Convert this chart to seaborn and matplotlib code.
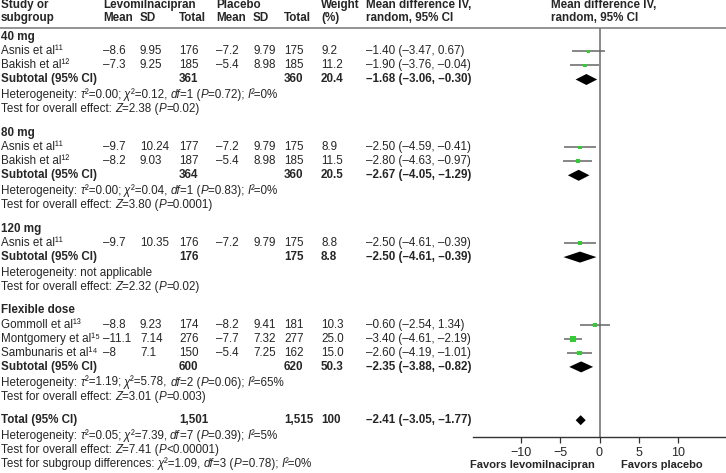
import numpy as np
import pandas as pd
import matplotlib
matplotlib.use("Agg")
import matplotlib.pyplot as plt
import matplotlib.transforms as mtransforms
from matplotlib.font_manager import FontProperties
import seaborn as sns

# ---- data ----
groups = ["40 mg", "80 mg", "120 mg", "Flexible dose"]

study_group = [0, 0, 1, 1, 2, 3, 3, 3]
study_names = ["Asnis et al", "Bakish et al", "Asnis et al", "Bakish et al",
               "Asnis et al", "Gommoll et al", "Montgomery et al", "Sambunaris et al"]
study_refs = ["\u00b9\u00b9", "\u00b9\u00b2", "\u00b9\u00b9", "\u00b9\u00b2",
              "\u00b9\u00b9", "\u00b9\u00b3", "\u00b9\u2075", "\u00b9\u2074"]
lev_mean = [-8.6, -7.3, -9.7, -8.2, -9.7, -8.8, -11.1, -8]
lev_sd = [9.95, 9.25, 10.24, 9.03, 10.35, 9.23, 7.14, 7.1]
lev_n = [176, 185, 177, 187, 176, 174, 276, 150]
pla_mean = [-7.2, -5.4, -7.2, -5.4, -7.2, -8.2, -7.7, -5.4]
pla_sd = [9.79, 8.98, 9.79, 8.98, 9.79, 9.41, 7.32, 7.25]
pla_n = [175, 185, 175, 185, 175, 181, 277, 162]
weight = [9.2, 11.2, 8.9, 11.5, 8.8, 10.3, 25.0, 15.0]
md = [-1.40, -1.90, -2.50, -2.80, -2.50, -0.60, -3.40, -2.60]
ci_lo = [-3.47, -3.76, -4.59, -4.63, -4.61, -2.54, -4.61, -4.19]
ci_hi = [0.67, -0.04, -0.41, -0.97, -0.39, 1.34, -2.19, -1.01]

sub_lev_n = [361, 364, 176, 600]
sub_pla_n = [360, 360, 175, 620]
sub_weight = [20.4, 20.5, 8.8, 50.3]
sub_md = [-1.68, -2.67, -2.50, -2.35]
sub_lo = [-3.06, -4.05, -4.61, -3.88]
sub_hi = [-0.30, -1.29, -0.39, -0.82]
# text between $...$ is set in italics
sub_het = ["Heterogeneity: $τ$²=0.00; $χ$²=0.12, $df$=1 ($P$=0.72); $I$²=0%",
           "Heterogeneity: $τ$²=0.00; $χ$²=0.04, $df$=1 ($P$=0.83); $I$²=0%",
           "Heterogeneity: not applicable",
           "Heterogeneity: $τ$²=1.19; $χ$²=5.78, $df$=2 ($P$=0.06); $I$²=65%"]
sub_test = ["Test for overall effect: $Z$=2.38 ($P$=0.02)",
            "Test for overall effect: $Z$=3.80 ($P$=0.0001)",
            "Test for overall effect: $Z$=2.32 ($P$=0.02)",
            "Test for overall effect: $Z$=3.01 ($P$=0.003)"]

tot_lev_n = 1501
tot_pla_n = 1515
tot_weight = 100
tot_md, tot_lo, tot_hi = -2.41, -3.05, -1.77
tot_notes = ["Heterogeneity: $τ$²=0.05; $χ$²=7.39, $df$=7 ($P$=0.39); $I$²=5%",
             "Test for overall effect: $Z$=7.41 ($P$<0.00001)",
             "Test for subgroup differences: $χ$²=1.09, $df$=3 ($P$=0.78); $I$²=0%"]

xticks = [-10, -5, 0, 5, 10]

# ---- style ----
sns.set_style("white")
FAMILY = ["Liberation Sans", "DejaVu Sans"]
plt.rcParams["font.family"] = FAMILY
FS = 8.4
GREEN = "#33cc33"
GREY = "#808080"


def dash(s):
    return s.replace("-", "\u2013")


def num(v):
    return dash(f"{v:g}")


W, H = 726, 473
fig = plt.figure(figsize=(W / 100, H / 100), dpi=100)
renderer = fig.canvas.get_renderer()
ax_top, ax_bot = 28, 437
ax_left = 473
ax = fig.add_axes([ax_left / W, (H - ax_bot) / H, (W - ax_left) / W, (ax_bot - ax_top) / H])
ax.set_ylim(ax_bot, ax_top)
ax.set_xlim(-16.2, 16.2)

# text in figure-pixel x, row y in axes data
tr = mtransforms.blended_transform_factory(fig.transFigure, ax.transData)


def put(xpx, y, s, bold=False):
    return ax.text(xpx / W, y, s, transform=tr, fontsize=FS, va="center", ha="left",
                   fontweight="bold" if bold else "normal", clip_on=False)


def text_w(s, prop):
    # width incl. trailing spaces: measure against a trailing "x"
    w1 = renderer.get_text_width_height_descent(s + "x", prop, ismath=False)[0]
    w0 = renderer.get_text_width_height_descent("x", prop, ismath=False)[0]
    return w1 - w0


def rich(xpx, y, s):
    x = xpx
    for k, part in enumerate(s.split("$")):
        if not part:
            continue
        prop = FontProperties(family=FAMILY, size=FS,
                              style="italic" if k % 2 else "normal")
        ax.text(x / W, y, part, transform=tr, fontproperties=prop,
                va="center", ha="left", clip_on=False)
        x += text_w(part, prop) * 100 / fig.dpi


cols = dict(name=1, lm=103, lsd=140, ln=179, pm=216, psd=253, pn=284, w=321, ci=366, fp=551)

# header
put(cols["name"], 5.5, "Study or", True)
put(cols["name"], 18.5, "subgroup", True)
put(cols["lm"], 5.5, "Levomilnacipran", True)
put(cols["pm"], 5.5, "Placebo", True)
put(cols["w"], 5.5, "Weight", True)
for key, lab in [("lm", "Mean"), ("lsd", "SD"), ("ln", "Total"),
                 ("pm", "Mean"), ("psd", "SD"), ("pn", "Total"), ("w", "(%)")]:
    put(cols[key], 18.5, lab, True)
for key in ["ci", "fp"]:
    put(cols[key], 5.5, "Mean difference IV,", True)
    put(cols[key], 18.5, "random, 95% CI", True)
ax.plot([0, 1], [ax_top, ax_top], transform=tr, color="#777777", lw=1.1, clip_on=False)

# row layout
study_y = []
sub_y = []
y = 37
for g, gname in enumerate(groups):
    put(cols["name"], y, gname, True)
    y += 14.5
    for i in [k for k, sg in enumerate(study_group) if sg == g]:
        study_y.append(y)
        put(cols["name"], y, study_names[i] + study_refs[i])
        put(cols["lm"], y, num(lev_mean[i]))
        put(cols["lsd"], y, num(lev_sd[i]))
        put(cols["ln"], y, str(lev_n[i]))
        put(cols["pm"], y, num(pla_mean[i]))
        put(cols["psd"], y, num(pla_sd[i]))
        put(cols["pn"], y, str(pla_n[i]))
        put(cols["w"], y, f"{weight[i]:.1f}")
        put(cols["ci"], y, dash(f"{md[i]:.2f} ({ci_lo[i]:.2f}, {ci_hi[i]:.2f})"))
        y += 14
    sub_y.append(y)
    put(cols["name"], y, "Subtotal (95% CI)", True)
    put(cols["ln"], y, str(sub_lev_n[g]), True)
    put(cols["pn"], y, str(sub_pla_n[g]), True)
    put(cols["w"], y, f"{sub_weight[g]:.1f}", True)
    put(cols["ci"], y, dash(f"{sub_md[g]:.2f} ({sub_lo[g]:.2f}, {sub_hi[g]:.2f})"), True)
    y += 16
    rich(cols["name"], y, sub_het[g])
    y += 14
    rich(cols["name"], y, sub_test[g])
    y += 23.3

tot_y = y
put(cols["name"], tot_y, "Total (95% CI)", True)
put(cols["ln"], tot_y, f"{tot_lev_n:,}", True)
put(cols["pn"], tot_y, f"{tot_pla_n:,}", True)
put(cols["w"], tot_y, f"{tot_weight}", True)
put(cols["ci"], tot_y, dash(f"{tot_md:.2f} ({tot_lo:.2f}, {tot_hi:.2f})"), True)
for k, note in enumerate(tot_notes):
    rich(cols["name"], tot_y + 16 + 14 * k, note)

# ---- forest marks ----
ax.axvline(0, color=GREY, lw=1.3, zorder=1)
ax.hlines(study_y, ci_lo, ci_hi, color="#666666", lw=1.1, zorder=2)
df = pd.DataFrame({"md": md, "y": study_y, "w": weight})
sns.scatterplot(data=df, x="md", y="y", size="w", sizes=(6, 20), marker="s",
                color=GREEN, linewidth=0, legend=False, ax=ax, zorder=3)


def diamond(m, lo, hi, yc, h=5.5):
    ax.fill([lo, m, hi, m], [yc, yc - h, yc, yc + h], color="black", lw=0, zorder=3)


for g in range(len(groups)):
    diamond(sub_md[g], sub_lo[g], sub_hi[g], sub_y[g])
diamond(tot_md, tot_lo, tot_hi, tot_y, h=5)

# axis styling
for side in ["left", "right", "top"]:
    ax.spines[side].set_visible(False)
ax.spines["bottom"].set_color("#333333")
ax.spines["bottom"].set_linewidth(1.0)
ax.set_yticks([])
ax.set_xticks(xticks)
ax.tick_params(axis="x", direction="out", length=4, width=0.9, color="#333333",
               labelsize=FS + 0.6, pad=3, bottom=True)
ax.set_xlabel("")
ax.set_ylabel("")
ax.text(-8.6, 465, "Favors levomilnacipran", ha="center", va="center",
        fontsize=8.0, fontweight="bold", clip_on=False)
ax.text(8.0, 465, "Favors placebo", ha="center", va="center",
        fontsize=8.0, fontweight="bold", clip_on=False)

fig.savefig("out.png", dpi=100, facecolor="white")
